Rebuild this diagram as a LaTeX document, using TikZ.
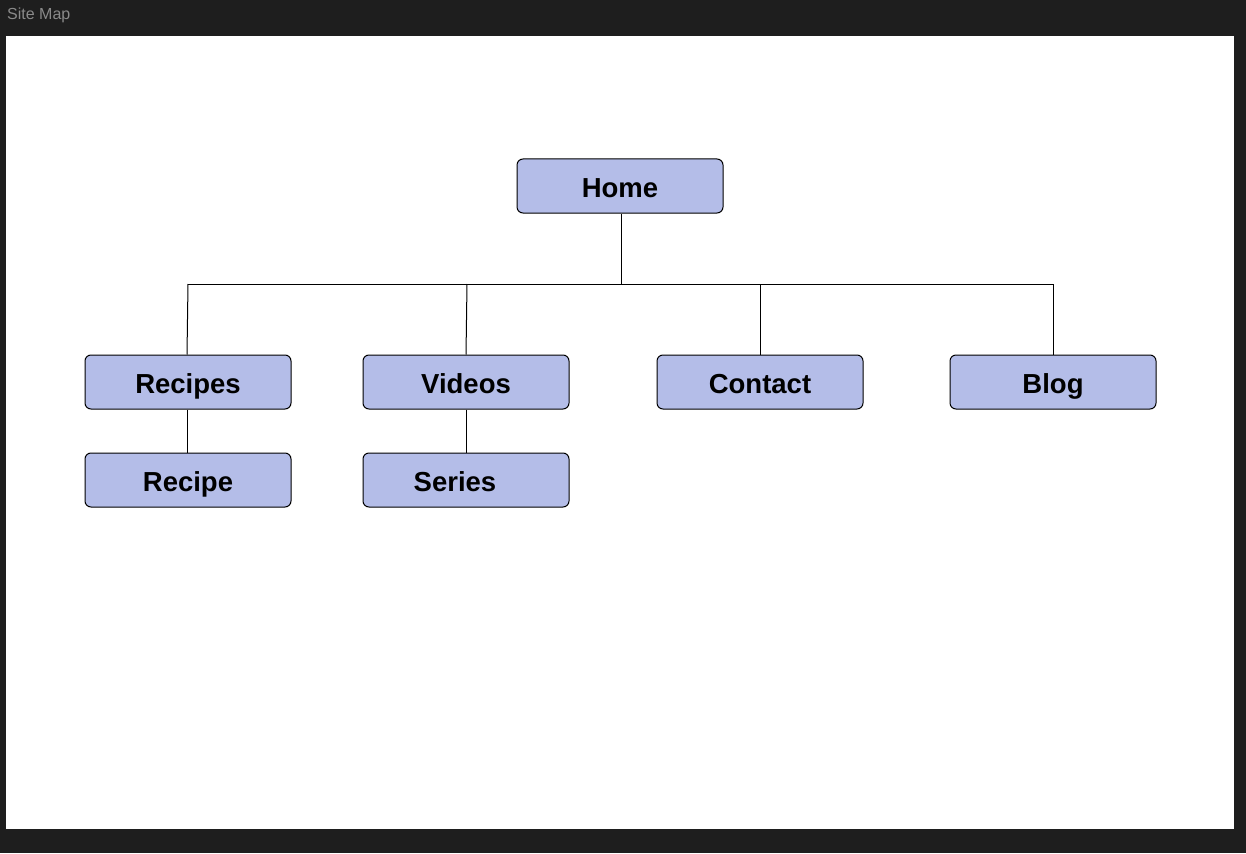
\documentclass[tikz,border=0pt]{standalone}
\usepackage{fontspec}
\setmainfont{Liberation Sans}
\definecolor{bgdark}{HTML}{1E1E1E}
\definecolor{boxfill}{HTML}{B4BDE8}
\definecolor{titlegray}{HTML}{8A8A8A}
\tikzset{
  sitebox/.style={draw=black, fill=boxfill, rounded corners=6pt, line width=1pt,
    minimum width=206pt, minimum height=54pt, inner sep=0pt,
    text height=22pt, text depth=0pt,
    font=\fontsize{27.5}{30}\selectfont\bfseries},
  link/.style={draw=black, line width=1pt}
}
\begin{document}
\begin{tikzpicture}[x=1pt,y=-1pt]
\fill[bgdark] (0,0) rectangle (1246,853);
\useasboundingbox (0,0) rectangle (1246,853);
\fill[white] (6,36) rectangle (1234,829);
\node[anchor=west, text=titlegray, font=\fontsize{16}{18}\selectfont, inner sep=0pt] (title) at (7,15) {Site Map};

\node[sitebox] (home) at (620,186) {Home};
\node[sitebox] (recipes) at (188,382) {Recipes};
\node[sitebox] (videos) at (466,382) {Videos};
\node[sitebox] (contact) at (760,382) {Contact};
\node[sitebox] (blog) at (1053,382) {Blog};
\node[sitebox] (recipe) at (188,480) {Recipe};
\node[sitebox] (series) at (466,480) {\hspace*{-22pt}Series};

\coordinate (hub) at (621,284);
\coordinate (jr) at (188,284);
\coordinate (jv) at (467,284);
\coordinate (jc) at (760,284);
\coordinate (jb) at (1053,284);

\draw[link] (home.south -| hub) -- (hub);
\draw[link] (jr) -- (jb);
\draw[link] (jr) -- (recipes.north -| 187,0);
\draw[link] (jv) -- (videos.north);
\draw[link] (jc) -- (contact.north);
\draw[link] (jb) -- (blog.north);
\draw[link] (recipes.south -| 187,0) -- (recipe.north -| 187,0);
\draw[link] (videos.south) -- (series.north);
\end{tikzpicture}
\end{document}
